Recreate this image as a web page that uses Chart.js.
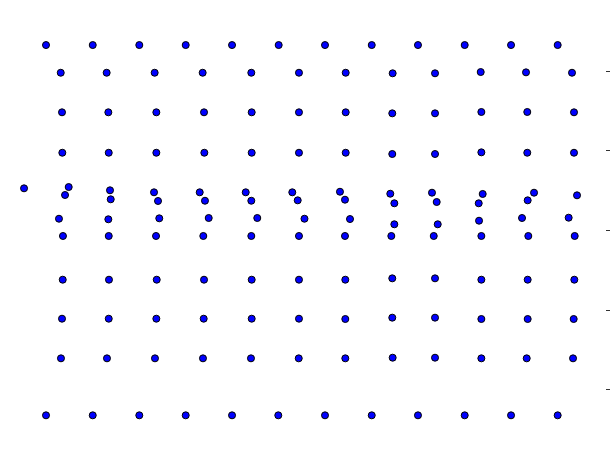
<!DOCTYPE html>
<html>
<head>
<meta charset="utf-8">
<script src="https://cdn.jsdelivr.net/npm/chart.js@4/dist/chart.umd.min.js"></script>
<style>
  html, body { margin: 0; padding: 0; background: #ffffff; overflow: hidden; }
  #wrap { position: relative; width: 610px; height: 463px; }
</style>
</head>
<body>
<div id="wrap"><canvas id="c"></canvas></div>
<script>
// Point positions (plot units; y ticks at -2..2)
const rowTopX   = [-3.216, -2.629, -2.044, -1.461, -0.879, -0.293, 0.289, 0.876, 1.457, 2.044, 2.626, 3.212];
const rowTopY   = [2.330, 2.330, 2.330, 2.330, 2.330, 2.330, 2.330, 2.330, 2.330, 2.330, 2.330, 2.330];

const row2X = [-3.031, -2.454, -1.851, -1.248, -0.637, -0.038, 0.549, 1.139, 1.671, 2.245, 2.814, 3.392];
const row2Y = [1.982, 1.982, 1.982, 1.982, 1.982, 1.982, 1.982, 1.975, 1.975, 1.991, 1.987, 1.982];

const row3X = [-3.015, -2.433, -1.830, -1.231, -0.632, -0.038, 0.549, 1.134, 1.671, 2.253, 2.830, 3.417];
const row3Y = [1.485, 1.485, 1.485, 1.485, 1.485, 1.485, 1.485, 1.472, 1.472, 1.489, 1.489, 1.485];

const row4X = [-3.011, -2.428, -1.830, -1.227, -0.632, -0.038, 0.549, 1.134, 1.671, 2.253, 2.830, 3.417];
const row4Y = [0.977, 0.977, 0.977, 0.977, 0.977, 0.977, 0.977, 0.961, 0.961, 0.982, 0.977, 0.977];

const clusterUpperX = [-3.492, -2.931, -2.412, -1.859, -1.285, -0.707, -0.122, 0.477, 1.109, 1.633, 2.270, 2.915, 3.455];
const clusterUpperY = [0.530, 0.546, 0.505, 0.480, 0.480, 0.480, 0.480, 0.487, 0.462, 0.475, 0.459, 0.475, 0.442];

const clusterMidX = [-2.977, -2.403, -1.809, -1.219, -0.637, -0.054, 0.540, 1.160, 1.692, 2.220, 2.835];
const clusterMidY = [0.446, 0.392, 0.371, 0.374, 0.374, 0.379, 0.387, 0.342, 0.358, 0.342, 0.379];

const clusterLowX = [-3.053, -2.433, -1.793, -1.172, -0.562, 0.031, 0.603, 1.160, 1.705, 2.224, 2.764, 3.350];
const clusterLowY = [0.148, 0.141, 0.153, 0.157, 0.157, 0.148, 0.144, 0.078, 0.078, 0.123, 0.157, 0.161];

const row5X = [-3.003, -2.428, -1.834, -1.240, -0.637, -0.038, 0.540, 1.122, 1.655, 2.253, 2.843, 3.426];
const row5Y = [-0.069, -0.069, -0.069, -0.069, -0.069, -0.069, -0.069, -0.069, -0.069, -0.069, -0.069, -0.069];

const row6X = [-3.006, -2.425, -1.825, -1.231, -0.632, -0.038, 0.544, 1.134, 1.671, 2.253, 2.835, 3.421];
const row6Y = [-0.618, -0.618, -0.618, -0.618, -0.618, -0.618, -0.618, -0.601, -0.601, -0.618, -0.618, -0.618];

const row7X = [-3.015, -2.428, -1.830, -1.235, -0.632, -0.038, 0.544, 1.134, 1.671, 2.253, 2.835, 3.413];
const row7Y = [-1.108, -1.108, -1.108, -1.108, -1.108, -1.108, -1.112, -1.095, -1.095, -1.112, -1.112, -1.112];

const row8X = [-3.028, -2.450, -1.847, -1.244, -0.641, -0.041, 0.544, 1.139, 1.671, 2.253, 2.823, 3.405];
const row8Y = [-1.606, -1.606, -1.606, -1.606, -1.606, -1.606, -1.606, -1.598, -1.598, -1.606, -1.606, -1.606];

const rowBottomX = [-3.216, -2.629, -2.044, -1.461, -0.879, -0.298, 0.289, 0.876, 1.457, 2.044, 2.626, 3.212];
const rowBottomY = [-2.322, -2.322, -2.322, -2.322, -2.322, -2.322, -2.322, -2.322, -2.322, -2.322, -2.322, -2.322];

const yTickValues = [-2, -1, 0, 1, 2];

const rowsX = [rowTopX, row2X, row3X, row4X, clusterUpperX, clusterMidX, clusterLowX, row5X, row6X, row7X, row8X, rowBottomX];
const rowsY = [rowTopY, row2Y, row3Y, row4Y, clusterUpperY, clusterMidY, clusterLowY, row5Y, row6Y, row7Y, row8Y, rowBottomY];

const points = [];
rowsX.forEach((xs, r) => xs.forEach((x, i) => points.push({ x: x, y: rowsY[r][i] })));

new Chart(document.getElementById('c'), {
  type: 'scatter',
  data: {
    datasets: [{
      data: points,
      backgroundColor: '#0000ff',
      borderColor: '#000000',
      borderWidth: 1,
      pointRadius: 3.5,
      pointHoverRadius: 3.5
    }]
  },
  options: {
    responsive: true,
    maintainAspectRatio: false,
    animation: false,
    events: [],
    layout: { padding: 0, autoPadding: false },
    plugins: { legend: { display: false }, tooltip: { enabled: false } },
    scales: {
      x: {
        type: 'linear',
        display: false,
        min: -3.794,
        max: 3.819
      },
      y: {
        type: 'linear',
        position: 'right',
        min: -2.921,
        max: 2.896,
        border: { display: false },
        grid: { drawOnChartArea: false, drawTicks: true, tickLength: 4, color: '#333333', lineWidth: 1 },
        ticks: { display: false, includeBounds: false, stepSize: 1 },
        afterBuildTicks: (axis) => { axis.ticks = yTickValues.map(v => ({ value: v })); }
      }
    }
  }
});
</script>
</body>
</html>
